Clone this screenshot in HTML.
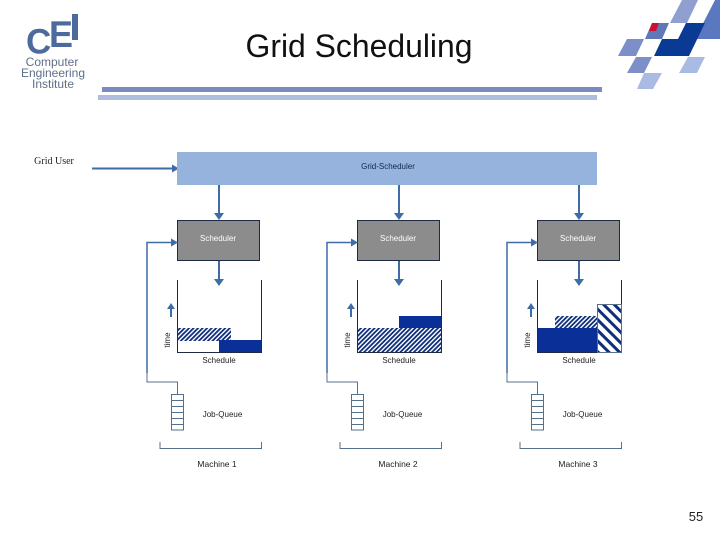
<!DOCTYPE html>
<html>
<head>
<meta charset="utf-8">
<style>
html,body{margin:0;padding:0;background:#fff;}
svg{display:block;}
text{font-family:"Liberation Sans",sans-serif;}
.s{font-size:8px;text-anchor:middle;fill:#222;font-weight:normal;}
</style>
</head>
<body>
<svg width="720" height="540" viewBox="0 0 720 540" xmlns="http://www.w3.org/2000/svg">
<defs>
<pattern id="h1" width="3.2" height="3.2" patternUnits="userSpaceOnUse" patternTransform="rotate(45)">
<rect width="3.2" height="3.2" fill="#fff"/><rect width="1.8" height="3.2" fill="#0f2f7c"/>
</pattern>
<pattern id="h2" width="7.5" height="7.5" patternUnits="userSpaceOnUse" patternTransform="rotate(-45)">
<rect width="7.5" height="7.5" fill="#fff"/><rect width="3" height="7.5" fill="#0f2f7c"/>
</pattern>
<g id="col">
<line x1="219" y1="185" x2="219" y2="214" stroke="#3f6ca5" stroke-width="2"/>
<polygon points="214,213 224,213 219,220" fill="#3f6ca5"/>
<rect x="177.5" y="220.5" width="82" height="40" fill="#8c8c8c" stroke="#1d2c42" stroke-width="1"/>
<text x="218" y="241" class="s" style="fill:#fff">Scheduler</text>
<line x1="219" y1="261" x2="219" y2="280" stroke="#3f6ca5" stroke-width="2"/>
<polygon points="214,279 224,279 219,286" fill="#3f6ca5"/>
<line x1="171" y1="307" x2="171" y2="317" stroke="#3f6ca5" stroke-width="2"/>
<polygon points="167,309 175,309 171,303" fill="#3f6ca5"/>
<text transform="translate(170,340) rotate(-90)" class="s" style="font-size:8px">time</text>
<text x="219" y="363" class="s">Schedule</text>
<polyline points="147,373 147,382 177.5,382 177.5,394" fill="none" stroke="#54708c" stroke-width="1"/>
<rect x="171.5" y="394.5" width="12" height="35.5" fill="#fff" stroke="#54708c" stroke-width="1"/>
<path d="M171.5 400.5H183.5M171.5 406.5H183.5M171.5 412.5H183.5M171.5 418.5H183.5M171.5 424.5H183.5" stroke="#54708c" stroke-width="1"/>
<text x="222.5" y="417" class="s">Job-Queue</text>
<polyline points="160,442 160,448.5 261.5,448.5 261.5,442" fill="none" stroke="#54708c" stroke-width="1"/>
</g>
</defs>
<rect width="720" height="540" fill="#fff"/>

<!-- CEI logo -->
<text x="26" y="53.5" style="font-size:35px;font-weight:bold" fill="#4d6a9c">C</text>
<text x="49" y="47" style="font-size:37px;font-weight:bold" fill="#4d6a9c" textLength="24" lengthAdjust="spacingAndGlyphs">E</text>
<rect x="72" y="14" width="6" height="26" fill="#4d6a9c"/>
<text x="52" y="66" style="font-size:12px;text-anchor:middle" fill="#5f6f88">Computer</text>
<text x="53" y="77" style="font-size:12px;text-anchor:middle" fill="#5f6f88">Engineering</text>
<text x="53" y="88" style="font-size:12px;text-anchor:middle" fill="#5f6f88">Institute</text>

<!-- corner graphic -->
<polygon points="682,0 698,0 687,23 670,23" fill="#8f9fd0"/>
<polygon points="715,0 720,0 720,39 695,39" fill="#5a78c0"/>
<polygon points="686,23 705,23 689,56 654,56 662,39 678,39" fill="#0a3a94"/>
<polygon points="652,23 669,23 662,39 645,39" fill="#6078b8"/>
<polygon points="652,23 659,23 656,31 649,31" fill="#cc1030"/>
<polygon points="627,39 644,39 636,56 618,56" fill="#7d8fc8"/>
<polygon points="636,57 652,57 644,73 627,73" fill="#7d8fc8"/>
<polygon points="644,73 662,73 653,89 637,89" fill="#a9bbe3"/>
<polygon points="688,57 705,57 697,73 679,73" fill="#a9bbe3"/>

<!-- title -->
<text x="359" y="57" style="font-size:32px;text-anchor:middle" fill="#111" textLength="227" lengthAdjust="spacingAndGlyphs">Grid Scheduling</text>
<rect x="102" y="87" width="500" height="5" fill="#7a8bc0"/>
<rect x="98" y="95" width="499" height="5" fill="#aebcdd"/>

<!-- grid user -->
<text x="54" y="164" style="font-family:'Liberation Serif',serif;font-size:10px;text-anchor:middle" fill="#222">Grid User</text>
<line x1="92" y1="168.5" x2="173" y2="168.5" stroke="#3f6ca5" stroke-width="2"/>
<polygon points="172,164.5 172,172.5 179,168.5" fill="#3f6ca5"/>

<!-- grid scheduler -->
<rect x="177" y="152" width="420" height="33" fill="#95b3dc"/>
<text x="388" y="169" class="s" style="fill:#12264d">Grid-Scheduler</text>

<!-- columns -->
<use href="#col"/>
<use href="#col" x="180"/>
<use href="#col" x="360"/>

<!-- feedback lines -->
<polyline points="147,373 147,242.5 172,242.5" fill="none" stroke="#3f6ca5" stroke-width="1.5"/>
<polygon points="171,238.5 171,246.5 178,242.5" fill="#3f6ca5"/>
<polyline points="327,373 327,242.5 352,242.5" fill="none" stroke="#3f6ca5" stroke-width="1.5"/>
<polygon points="351,238.5 351,246.5 358,242.5" fill="#3f6ca5"/>
<polyline points="507,373 507,242.5 532,242.5" fill="none" stroke="#3f6ca5" stroke-width="1.5"/>
<polygon points="531,238.5 531,246.5 538,242.5" fill="#3f6ca5"/>

<!-- schedule 1 -->
<rect x="177" y="328" width="54" height="13" fill="url(#h1)"/>
<rect x="219" y="340" width="42" height="12.5" fill="#0a2f96"/>
<polyline points="177.5,280 177.5,352.5 261.5,352.5 261.5,280" fill="none" stroke="#1d2c42" stroke-width="1"/>

<!-- schedule 2 -->
<rect x="357" y="328" width="84" height="24" fill="url(#h1)"/>
<rect x="399" y="316" width="42" height="12" fill="#0a2f96"/>
<polyline points="357.5,280 357.5,352.5 441.5,352.5 441.5,280" fill="none" stroke="#1d2c42" stroke-width="1"/>

<!-- schedule 3 -->
<rect x="555" y="316" width="42" height="13" fill="url(#h1)"/>
<rect x="537" y="328" width="60" height="24.5" fill="#0a2f96"/>
<polyline points="537.5,280 537.5,352.5 621.5,352.5 621.5,280" fill="none" stroke="#1d2c42" stroke-width="1"/>
<rect x="597.5" y="304.5" width="24" height="48" fill="url(#h2)" stroke="#54708c" stroke-width="1"/>

<!-- machine labels -->
<text x="217" y="467" class="s" style="font-size:8.5px">Machine 1</text>
<text x="398" y="467" class="s" style="font-size:8.5px">Machine 2</text>
<text x="578" y="467" class="s" style="font-size:8.5px">Machine 3</text>

<!-- page number -->
<text x="696" y="521" style="font-size:13px;text-anchor:middle" fill="#222">55</text>
</svg>
</body>
</html>
